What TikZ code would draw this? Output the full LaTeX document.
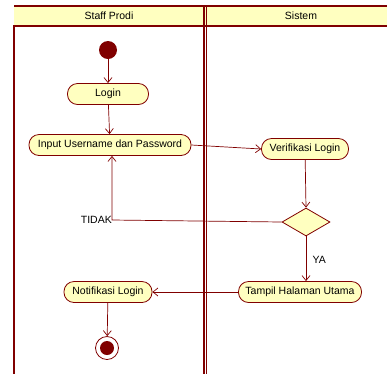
\documentclass[tikz,border=0pt]{standalone}
\usepackage{fontspec}
\setmainfont{Liberation Sans}
\usetikzlibrary{shapes.geometric,arrows.meta}
\definecolor{umlred}{RGB}{128,0,0}
\definecolor{umlfill}{RGB}{255,255,192}
\definecolor{headfill}{RGB}{255,255,192}
\tikzset{
  action/.style={rectangle, rounded corners=10pt, draw=umlred, fill=umlfill, line width=0.8pt,
    minimum height=21pt, inner sep=0pt, font=\fontsize{10.5}{12}\selectfont},
  decision/.style={diamond, draw=umlred, fill=umlfill, line width=0.8pt,
    minimum width=48pt, minimum height=28pt, inner sep=0pt, aspect=1.7},
  flow/.style={draw=umlred, line width=0.7pt, -{Straight Barb[length=5pt,width=8pt]}},
  lane/.style={draw=umlred, line width=2pt},
  lbl/.style={font=\fontsize{10.5}{12}\selectfont}
}
\begin{document}
\begin{tikzpicture}[x=1pt,y=-1pt]
\useasboundingbox (0,0) rectangle (387,373);
% swimlane frame and headers
\fill[headfill] (14,6) rectangle (398,26);
\draw[lane] (398,26) -- (14,26) -- (14,380);
\draw[lane] (14,6) -- (398,6);
\draw[lane] (203.5,6) -- (203.5,380);
\draw[umlred, line width=0.8pt] (206.5,6) -- (206.5,380);
\node[lbl] (h1) at (109,16) {Staff Prodi};
\node[lbl] (h2) at (301,16) {Sistem};
% start and end
\node[circle, fill=umlred, minimum size=18pt, inner sep=0pt] (start) at (108,50) {};
\node[circle, draw=umlred, fill=white, line width=0.8pt, minimum size=23pt, inner sep=0pt] (stop) at (107,348) {};
\node[circle, fill=umlred, minimum size=14pt, inner sep=0pt] (stopdot) at (107,348) {};
% actions
\node[action, minimum width=81pt] (login) at (108,94) {Login};
\node[action, minimum width=162pt] (input) at (110,145) {Input Username dan Password};
\node[action, minimum width=87pt] (verif) at (305,149) {Verifikasi Login};
\node[decision] (dec) at (306,222) {};
\node[action, minimum width=123pt] (tampil) at (300,292) {Tampil Halaman Utama};
\node[action, minimum width=88pt] (notif) at (108,292) {Notifikasi Login};
% flows
\draw[flow] (start) -- (login);
\draw[flow] (login) -- (input);
\draw[flow] (input.east) -- (verif.west);
\draw[flow] (verif) -- (dec.north);
\draw[flow] (dec.west) -- (112,220) coordinate (back) -- (back |- input.south);
\node[lbl, anchor=east, inner sep=1pt] (tidak) at (113,220) {TIDAK};
\draw[flow] (dec.south) -- (tampil.north -| dec.south);
\node[lbl, anchor=west] (ya) at (309,260) {YA};
\draw[flow] (tampil.west) -- (notif.east);
\draw[flow] (notif) -- (stop);
\end{tikzpicture}
\end{document}
